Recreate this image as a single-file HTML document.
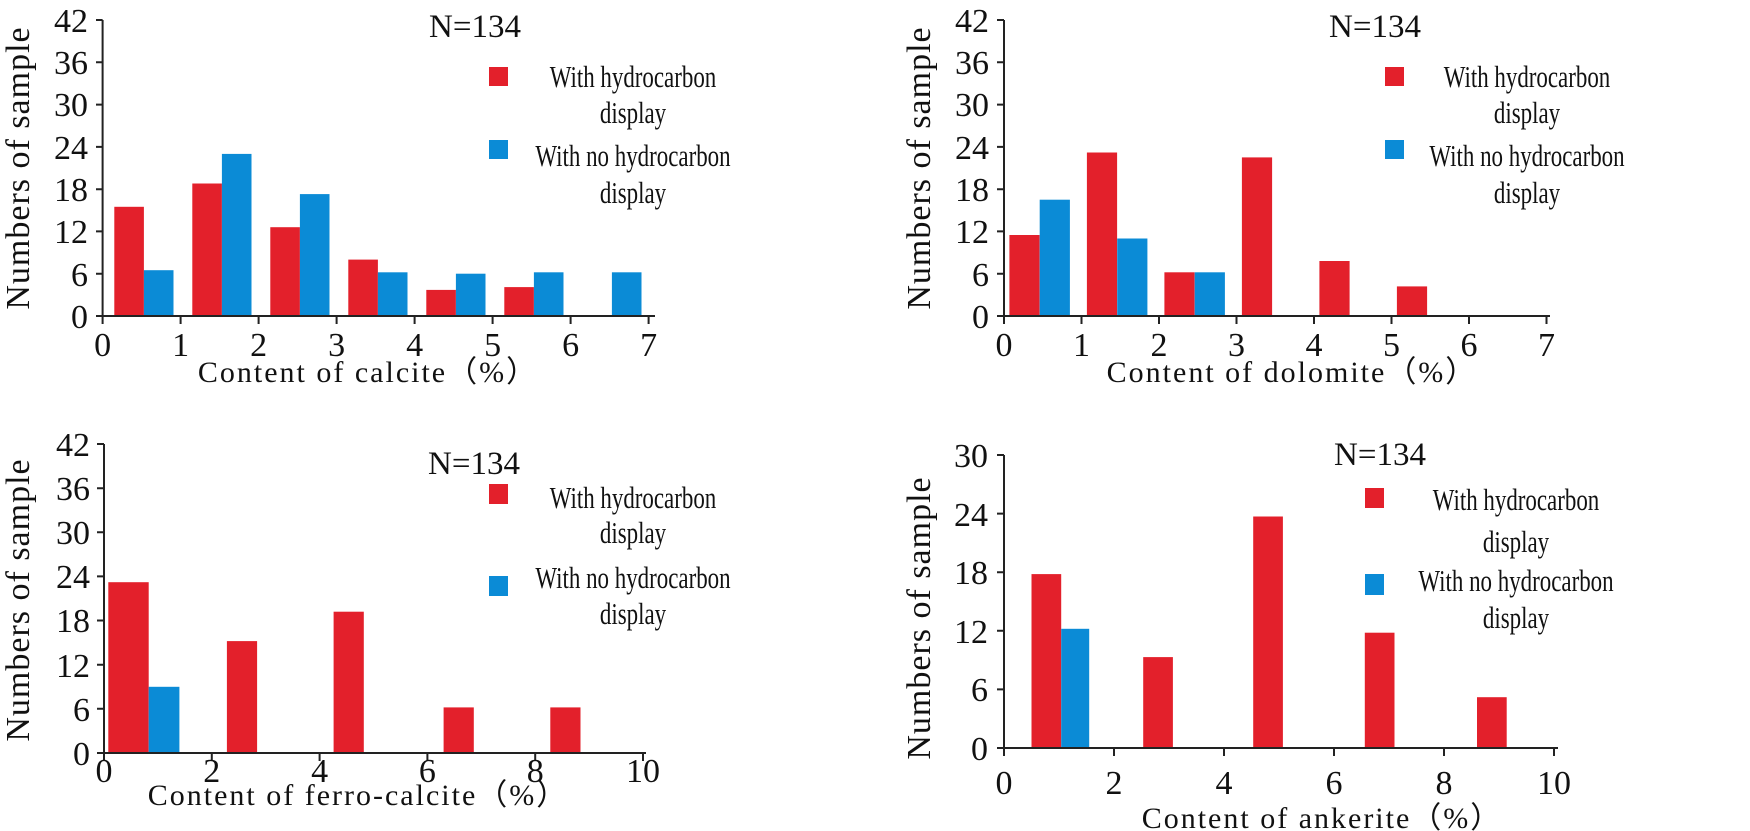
<!DOCTYPE html>
<html><head><meta charset="utf-8"><style>
body{margin:0;background:#fff}
svg{display:block}
text{font-family:"Liberation Serif",serif;fill:#111}
.t{font-size:34px}
.y{font-size:34px}
.x{font-size:30px}
.n{font-size:33px}
.l{font-size:31px}
.a{stroke:#222;stroke-width:2;fill:none}
.r{fill:#e3202b}.b{fill:#0b8bd6}
</style></head><body>
<svg width="1750" height="831" viewBox="0 0 1750 831" xmlns="http://www.w3.org/2000/svg">
<!-- Chart 1 -->
<g>
<rect class="r" x="114.3" y="206.8" width="29.6" height="109.2"/><rect class="b" x="143.9" y="270.2" width="29.6" height="45.8"/>
<rect class="r" x="192.3" y="183.5" width="29.6" height="132.5"/><rect class="b" x="221.9" y="153.9" width="29.6" height="162.1"/>
<rect class="r" x="270.3" y="227.2" width="29.6" height="88.8"/><rect class="b" x="299.9" y="194.1" width="29.6" height="121.9"/>
<rect class="r" x="348.3" y="259.6" width="29.6" height="56.4"/><rect class="b" x="377.9" y="272.3" width="29.6" height="43.7"/>
<rect class="r" x="426.3" y="289.9" width="29.6" height="26.1"/><rect class="b" x="455.9" y="273.7" width="29.6" height="42.3"/>
<rect class="r" x="504.3" y="287.1" width="29.6" height="28.9"/><rect class="b" x="533.9" y="272.3" width="29.6" height="43.7"/>
<rect class="b" x="611.9" y="272.3" width="29.6" height="43.7"/>
<path class="a" d="M102.6 20V316H655 M96 20H102.6 M96 62.3H102.6 M96 104.6H102.6 M96 146.9H102.6 M96 189.2H102.6 M96 231.4H102.6 M96 273.7H102.6 M96 316H102.6 M102.6 316v8 M180.6 316v8 M258.6 316v8 M336.6 316v8 M414.6 316v8 M492.6 316v8 M570.6 316v8 M648.6 316v8"/>
<g class="t" text-anchor="end"><text x="88" y="32">42</text><text x="88" y="74">36</text><text x="88" y="116">30</text><text x="88" y="159">24</text><text x="88" y="201">18</text><text x="88" y="243">12</text><text x="88" y="286">6</text><text x="88" y="328">0</text></g>
<g class="t" text-anchor="middle"><text x="102.6" y="356">0</text><text x="180.6" y="356">1</text><text x="258.6" y="356">2</text><text x="336.6" y="356">3</text><text x="414.6" y="356">4</text><text x="492.6" y="356">5</text><text x="570.6" y="356">6</text><text x="648.6" y="356">7</text></g>
<text class="y" text-anchor="middle" transform="translate(29,168) rotate(-90)" letter-spacing="1">Numbers of sample</text>
<text class="x" x="368" y="382" text-anchor="middle" letter-spacing="2">Content of calcite（%）</text>
<text class="n" x="429" y="37">N=134</text>
<rect class="r" x="489" y="67" width="19" height="19"/><rect class="b" x="489" y="140" width="19" height="19"/>
<g class="l" text-anchor="middle"><text transform="translate(633 87) scale(0.74 1)">With hydrocarbon</text><text transform="translate(633 123) scale(0.74 1)">display</text><text transform="translate(633 166) scale(0.74 1)">With no hydrocarbon</text><text transform="translate(633 203) scale(0.74 1)">display</text></g>
</g>
<!-- Chart 2 -->
<g>
<rect class="r" x="1009.4" y="235" width="30.2" height="81"/><rect class="b" x="1039.7" y="199.7" width="30.2" height="116.3"/>
<rect class="r" x="1086.9" y="152.5" width="30.2" height="163.5"/><rect class="b" x="1117.2" y="238.5" width="30.2" height="77.5"/>
<rect class="r" x="1164.4" y="272.3" width="30.2" height="43.7"/><rect class="b" x="1194.7" y="272.3" width="30.2" height="43.7"/>
<rect class="r" x="1241.9" y="157.4" width="30.2" height="158.6"/>
<rect class="r" x="1319.4" y="261" width="30.2" height="55"/>
<rect class="r" x="1396.9" y="286.4" width="30.2" height="29.6"/>
<path class="a" d="M1004 20V316H1550 M997 20H1004 M997 62.3H1004 M997 104.6H1004 M997 146.9H1004 M997 189.2H1004 M997 231.4H1004 M997 273.7H1004 M997 316H1004 M1004 316v8 M1081.5 316v8 M1159 316v8 M1236.5 316v8 M1314 316v8 M1391.5 316v8 M1469 316v8 M1546.5 316v8"/>
<g class="t" text-anchor="end"><text x="989" y="32">42</text><text x="989" y="74">36</text><text x="989" y="116">30</text><text x="989" y="159">24</text><text x="989" y="201">18</text><text x="989" y="243">12</text><text x="989" y="286">6</text><text x="989" y="328">0</text></g>
<g class="t" text-anchor="middle"><text x="1004" y="356">0</text><text x="1081.5" y="356">1</text><text x="1159" y="356">2</text><text x="1236.5" y="356">3</text><text x="1314" y="356">4</text><text x="1391.5" y="356">5</text><text x="1469" y="356">6</text><text x="1546.5" y="356">7</text></g>
<text class="y" text-anchor="middle" transform="translate(930,168) rotate(-90)" letter-spacing="1">Numbers of sample</text>
<text class="x" x="1292" y="382" text-anchor="middle" letter-spacing="2">Content of dolomite（%）</text>
<text class="n" x="1329" y="37">N=134</text>
<rect class="r" x="1385" y="67" width="19" height="19"/><rect class="b" x="1385" y="140" width="19" height="19"/>
<g class="l" text-anchor="middle"><text transform="translate(1527 87) scale(0.74 1)">With hydrocarbon</text><text transform="translate(1527 123) scale(0.74 1)">display</text><text transform="translate(1527 166) scale(0.74 1)">With no hydrocarbon</text><text transform="translate(1527 203) scale(0.74 1)">display</text></g>
</g>
<!-- Chart 3 -->
<g>
<rect class="r" x="108.3" y="582.2" width="40.4" height="170.8"/><rect class="b" x="148.7" y="686.8" width="30.7" height="66.2"/>
<rect class="r" x="226.9" y="641.1" width="30.2" height="111.9"/>
<rect class="r" x="333.6" y="611.7" width="30.2" height="141.3"/>
<rect class="r" x="443.6" y="707.4" width="30.2" height="45.6"/>
<rect class="r" x="550.3" y="707.4" width="30.2" height="45.6"/>
<path class="a" d="M104 444V753H646 M97 444H104 M97 488.2H104 M97 532.3H104 M97 576.4H104 M97 620.5H104 M97 664.7H104 M97 708.8H104 M97 753H104 M104 753v8 M211.8 753v8 M319.6 753v8 M427.4 753v8 M535.2 753v8 M643 753v8"/>
<g class="t" text-anchor="end"><text x="90" y="456">42</text><text x="90" y="500">36</text><text x="90" y="544">30</text><text x="90" y="588">24</text><text x="90" y="632">18</text><text x="90" y="677">12</text><text x="90" y="721">6</text><text x="90" y="765">0</text></g>
<g class="t" text-anchor="middle"><text x="104" y="782">0</text><text x="211.8" y="782">2</text><text x="319.6" y="782">4</text><text x="427.4" y="782">6</text><text x="535.2" y="782">8</text><text x="643" y="782">10</text></g>
<text class="y" text-anchor="middle" transform="translate(29,600) rotate(-90)" letter-spacing="1">Numbers of sample</text>
<text class="x" x="358" y="805" text-anchor="middle" letter-spacing="2">Content of ferro-calcite（%）</text>
<text class="n" x="428" y="474">N=134</text>
<rect class="r" x="489" y="484" width="19" height="20"/><rect class="b" x="489" y="576" width="19" height="20"/>
<g class="l" text-anchor="middle"><text transform="translate(633 508) scale(0.74 1)">With hydrocarbon</text><text transform="translate(633 543) scale(0.74 1)">display</text><text transform="translate(633 588) scale(0.74 1)">With no hydrocarbon</text><text transform="translate(633 624) scale(0.74 1)">display</text></g>
</g>
<!-- Chart 4 -->
<g>
<rect class="r" x="1031.5" y="574.1" width="29.7" height="173.9"/><rect class="b" x="1061.2" y="628.8" width="28" height="119.2"/>
<rect class="r" x="1143.2" y="657.1" width="29.7" height="90.9"/>
<rect class="r" x="1253.2" y="516.5" width="29.7" height="231.5"/>
<rect class="r" x="1364.8" y="632.7" width="29.7" height="115.3"/>
<rect class="r" x="1477" y="697.2" width="29.7" height="50.8"/>
<path class="a" d="M1004 455V748H1558 M997 455H1004 M997 513.6H1004 M997 572.2H1004 M997 630.8H1004 M997 689.4H1004 M997 748H1004 M1004 748v8 M1114 748v8 M1224 748v8 M1334 748v8 M1444 748v8 M1554 748v8"/>
<g class="t" text-anchor="end"><text x="988" y="467">30</text><text x="988" y="526">24</text><text x="988" y="584">18</text><text x="988" y="643">12</text><text x="988" y="701">6</text><text x="988" y="760">0</text></g>
<g class="t" text-anchor="middle"><text x="1004" y="794">0</text><text x="1114" y="794">2</text><text x="1224" y="794">4</text><text x="1334" y="794">6</text><text x="1444" y="794">8</text><text x="1554" y="794">10</text></g>
<text class="y" text-anchor="middle" transform="translate(930,618) rotate(-90)" letter-spacing="1">Numbers of sample</text>
<text class="x" x="1322" y="828" text-anchor="middle" letter-spacing="2">Content of ankerite（%）</text>
<text class="n" x="1334" y="465">N=134</text>
<rect class="r" x="1365" y="488" width="19" height="20"/><rect class="b" x="1365" y="574" width="19" height="21"/>
<g class="l" text-anchor="middle"><text transform="translate(1516 510) scale(0.74 1)">With hydrocarbon</text><text transform="translate(1516 552) scale(0.74 1)">display</text><text transform="translate(1516 591) scale(0.74 1)">With no hydrocarbon</text><text transform="translate(1516 628) scale(0.74 1)">display</text></g>
</g>
</svg>
</body></html>
